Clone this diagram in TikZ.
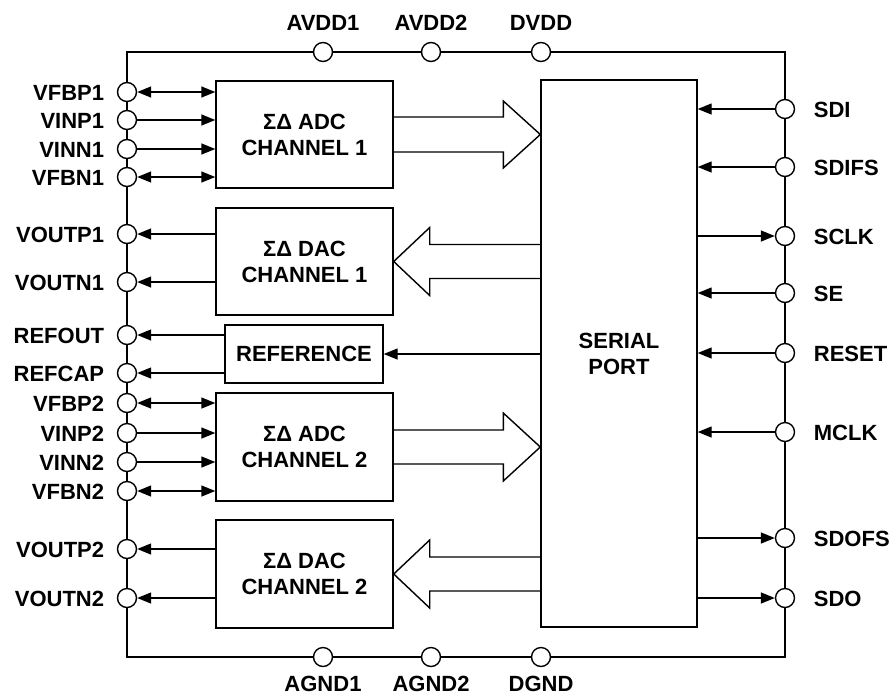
\documentclass[tikz,border=0pt]{standalone}
\usepackage{fontspec}
\setmainfont{Liberation Sans}
\usetikzlibrary{arrows.meta,positioning,calc}

\begin{document}
\begin{tikzpicture}[
    x=1pt, y=-1pt,
    line width=1.4pt,
    >={Triangle[length=14pt,width=11pt]},
    block/.style={draw, rectangle, inner sep=0pt, align=center, font=\fontsize{22}{26}\selectfont\bfseries},
    pad/.style={draw, circle, fill=white, minimum size=19pt, inner sep=0pt},
    padname/.style={inner sep=0pt, text height=16pt, text depth=0pt, font=\fontsize{22}{26}\selectfont\bfseries},
    node distance=12pt
]
    \useasboundingbox (0,0) rectangle (890,697);

    % Package outline
    \draw (127,52) rectangle (785,657);

    % Blocks
    \node[block, minimum width=177pt, minimum height=107pt] (adc1) at (304.5,134.5) {ΣΔ ADC\\CHANNEL 1};
    \node[block, minimum width=177pt, minimum height=107pt] (dac1) at (304.5,261.5) {ΣΔ DAC\\CHANNEL 1};
    \node[block, minimum width=158pt, minimum height=58pt] (ref) at (304,354) {REFERENCE};
    \node[block, minimum width=177pt, minimum height=108pt] (adc2) at (304.5,447) {ΣΔ ADC\\CHANNEL 2};
    \node[block, minimum width=177pt, minimum height=108pt] (dac2) at (304.5,574) {ΣΔ DAC\\CHANNEL 2};
    \node[block, minimum width=156pt, minimum height=547pt] (sp) at (619,353.5) {SERIAL\\PORT};

    % Supply pads
    \node[pad] (avdd1) at (323,52) {};
    \node[pad] (avdd2) at (431,52) {};
    \node[pad] (dvdd) at (541,52) {};
    \node[pad] (agnd1) at (323,657) {};
    \node[pad] (agnd2) at (431,657) {};
    \node[pad] (dgnd) at (541,657) {};
    \node[padname, above=11pt of avdd1] (avdd1-l) {AVDD1};
    \node[padname, above=11pt of avdd2] (avdd2-l) {AVDD2};
    \node[padname, above=11pt of dvdd] (dvdd-l) {DVDD};
    \node[padname, below=8pt of agnd1] (agnd1-l) {AGND1};
    \node[padname, below=8pt of agnd2] (agnd2-l) {AGND2};
    \node[padname, below=8pt of dgnd] (dgnd-l) {DGND};

    % Analog pads
    \node[pad] (vfbp1) at (127,92) {};
    \node[pad] (vinp1) at (127,120) {};
    \node[pad] (vinn1) at (127,149) {};
    \node[pad] (vfbn1) at (127,177) {};
    \node[pad] (voutp1) at (127,234) {};
    \node[pad] (voutn1) at (127,282) {};
    \node[pad] (refout) at (127,335) {};
    \node[pad] (refcap) at (127,373) {};
    \node[pad] (vfbp2) at (127,403) {};
    \node[pad] (vinp2) at (127,433) {};
    \node[pad] (vinn2) at (127,462) {};
    \node[pad] (vfbn2) at (127,491) {};
    \node[pad] (voutp2) at (127,549) {};
    \node[pad] (voutn2) at (127,598) {};
    \node[padname, left=of vfbp1] (vfbp1-l) {VFBP1};
    \node[padname, left=of vinp1] (vinp1-l) {VINP1};
    \node[padname, left=of vinn1] (vinn1-l) {VINN1};
    \node[padname, left=of vfbn1] (vfbn1-l) {VFBN1};
    \node[padname, left=of voutp1] (voutp1-l) {VOUTP1};
    \node[padname, left=of voutn1] (voutn1-l) {VOUTN1};
    \node[padname, left=of refout] (refout-l) {REFOUT};
    \node[padname, left=of refcap] (refcap-l) {REFCAP};
    \node[padname, left=of vfbp2] (vfbp2-l) {VFBP2};
    \node[padname, left=of vinp2] (vinp2-l) {VINP2};
    \node[padname, left=of vinn2] (vinn2-l) {VINN2};
    \node[padname, left=of vfbn2] (vfbn2-l) {VFBN2};
    \node[padname, left=of voutp2] (voutp2-l) {VOUTP2};
    \node[padname, left=of voutn2] (voutn2-l) {VOUTN2};

    % Serial pads
    \node[pad] (sdi) at (785,109) {};
    \node[pad] (sdifs) at (785,167) {};
    \node[pad] (sclk) at (785,236) {};
    \node[pad] (se) at (785,293) {};
    \node[pad] (reset) at (785,353) {};
    \node[pad] (mclk) at (785,432) {};
    \node[pad] (sdofs) at (785,538) {};
    \node[pad] (sdo) at (785,598) {};
    \node[padname, right=18pt of sdi] (sdi-l) {SDI};
    \node[padname, right=18pt of sdifs] (sdifs-l) {SDIFS};
    \node[padname, right=18pt of sclk] (sclk-l) {SCLK};
    \node[padname, right=18pt of se] (se-l) {SE};
    \node[padname, right=18pt of reset] (reset-l) {RESET};
    \node[padname, right=18pt of mclk] (mclk-l) {MCLK};
    \node[padname, right=18pt of sdofs] (sdofs-l) {SDOFS};
    \node[padname, right=18pt of sdo] (sdo-l) {SDO};

    % Channel 1 signals
    \draw[<->] (vfbp1) -- (vfbp1 -| adc1.west);
    \draw[->] (vinp1) -- (vinp1 -| adc1.west);
    \draw[->] (vinn1) -- (vinn1 -| adc1.west);
    \draw[<->] (vfbn1) -- (vfbn1 -| adc1.west);
    \draw[->] (voutp1 -| dac1.west) -- (voutp1);
    \draw[->] (voutn1 -| dac1.west) -- (voutn1);

    % Reference
    \draw[->] (refout -| ref.west) -- (refout);
    \draw[->] (refcap -| ref.west) -- (refcap);
    \draw[->] (ref.east -| sp.west) -- (ref.east);

    % Channel 2 signals
    \draw[<->] (vfbp2) -- (vfbp2 -| adc2.west);
    \draw[->] (vinp2) -- (vinp2 -| adc2.west);
    \draw[->] (vinn2) -- (vinn2 -| adc2.west);
    \draw[<->] (vfbn2) -- (vfbn2 -| adc2.west);
    \draw[->] (voutp2 -| dac2.west) -- (voutp2);
    \draw[->] (voutn2 -| dac2.west) -- (voutn2);

    % Serial port lines
    \draw[->] (sdi) -- (sdi -| sp.east);
    \draw[->] (sdifs) -- (sdifs -| sp.east);
    \draw[->] (sclk -| sp.east) -- (sclk);
    \draw[->] (se) -- (se -| sp.east);
    \draw[->] (reset) -- (reset -| sp.east);
    \draw[->] (mclk) -- (mclk -| sp.east);
    \draw[->] (sdofs -| sp.east) -- (sdofs);
    \draw[->] (sdo -| sp.east) -- (sdo);

    % Data buses
    \coordinate (adc1tip) at (adc1.east -| sp.west);
    \coordinate (adc2tip) at (adc2.east -| sp.west);
    \coordinate (dac1base) at (dac1.east -| sp.west);
    \coordinate (dac2base) at (dac2.east -| sp.west);
    \draw ([yshift=17.5pt]adc1.east) -- ([xshift=-37pt,yshift=17.5pt]adc1tip) -- ([xshift=-37pt,yshift=33.5pt]adc1tip)
        -- (adc1tip) -- ([xshift=-37pt,yshift=-33.5pt]adc1tip) -- ([xshift=-37pt,yshift=-17.5pt]adc1tip) -- ([yshift=-17.5pt]adc1.east);
    \draw ([yshift=17pt]adc2.east) -- ([xshift=-37pt,yshift=17pt]adc2tip) -- ([xshift=-37pt,yshift=34pt]adc2tip)
        -- (adc2tip) -- ([xshift=-37pt,yshift=-34pt]adc2tip) -- ([xshift=-37pt,yshift=-17pt]adc2tip) -- ([yshift=-17pt]adc2.east);
    \draw ([yshift=17pt]dac1base) -- ([xshift=36pt,yshift=17pt]dac1.east) -- ([xshift=36pt,yshift=34pt]dac1.east)
        -- (dac1.east) -- ([xshift=36pt,yshift=-34pt]dac1.east) -- ([xshift=36pt,yshift=-17pt]dac1.east) -- ([yshift=-17pt]dac1base);
    \draw ([yshift=17pt]dac2base) -- ([xshift=36pt,yshift=17pt]dac2.east) -- ([xshift=36pt,yshift=34pt]dac2.east)
        -- (dac2.east) -- ([xshift=36pt,yshift=-34pt]dac2.east) -- ([xshift=36pt,yshift=-17pt]dac2.east) -- ([yshift=-17pt]dac2base);
\end{tikzpicture}
\end{document}
